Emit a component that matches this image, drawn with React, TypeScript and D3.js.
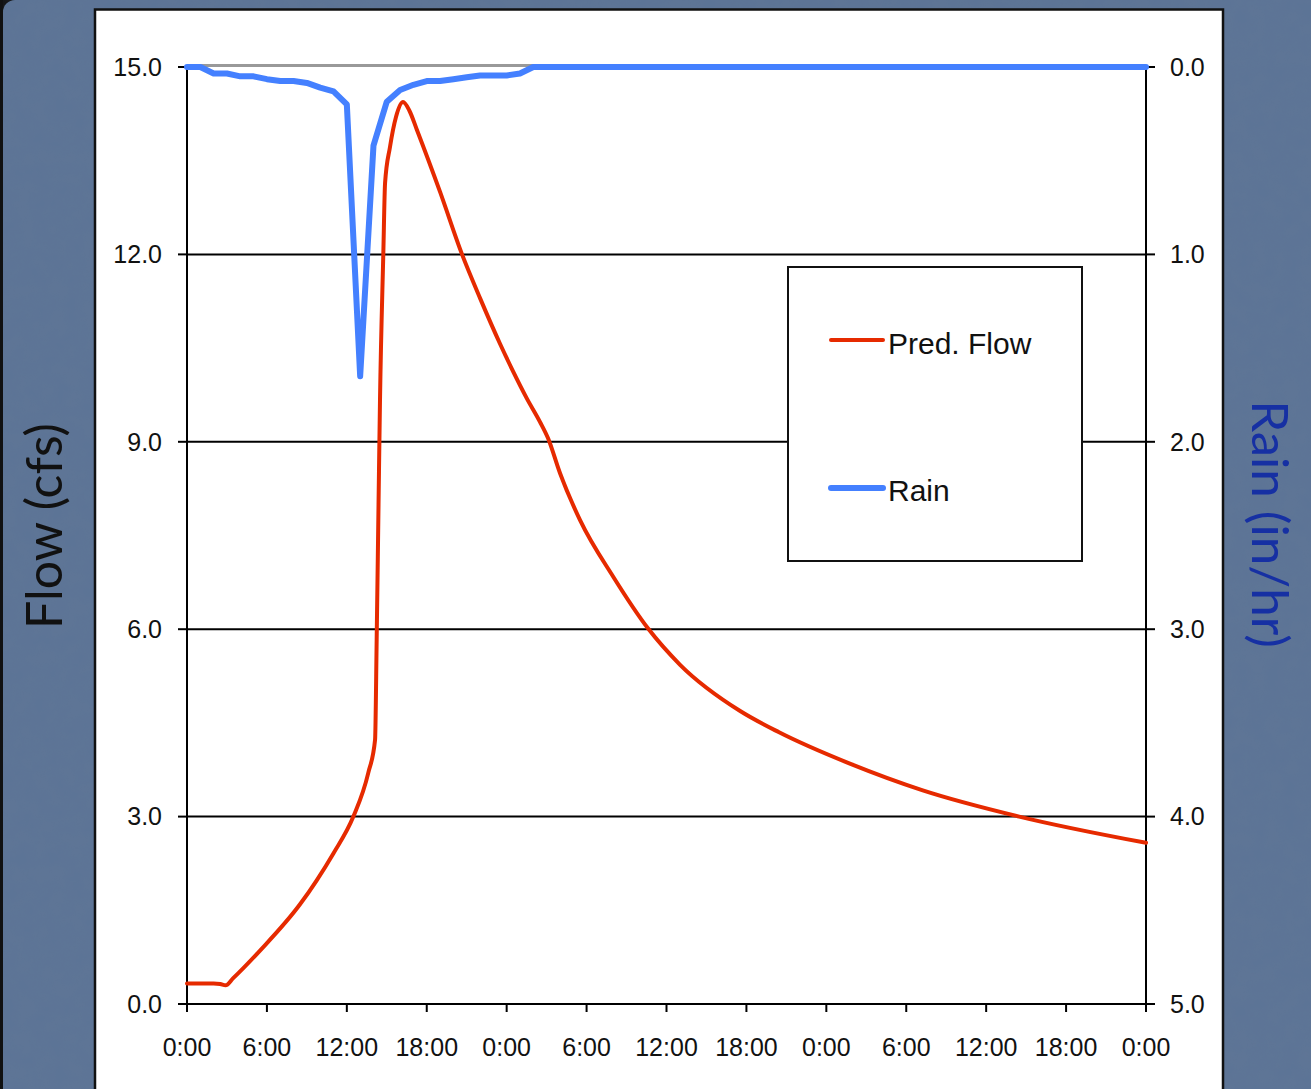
import React from "react";
import * as d3 from "d3";

// ---- data ----
const xTickHours = [0, 6, 12, 18, 24, 30, 36, 42, 48, 54, 60, 66, 72];
const xTickLabels = ["0:00", "6:00", "12:00", "18:00", "0:00", "6:00", "12:00", "18:00", "0:00", "6:00", "12:00", "18:00", "0:00"];
const flowTicks = [0, 3, 6, 9, 12, 15];
const rainTicks = [0, 1, 2, 3, 4, 5];

// Rain (in/hr), hourly from hour 0
const rainHours = d3.range(0, 73);
const rainValues = [
  0, 0, 0.035, 0.035, 0.05, 0.05, 0.065, 0.075, 0.075, 0.085,
  0.11, 0.13, 0.2, 1.65, 0.42, 0.185, 0.123, 0.095, 0.075, 0.075,
  0.065, 0.055, 0.045, 0.045, 0.045, 0.035, 0, 0, 0, 0,
  0, 0, 0, 0, 0, 0, 0, 0, 0, 0,
  0, 0, 0, 0, 0, 0, 0, 0, 0, 0,
  0, 0, 0, 0, 0, 0, 0, 0, 0, 0,
  0, 0, 0, 0, 0, 0, 0, 0, 0, 0,
  0, 0, 0,
];

// Predicted flow (cfs), read at these hours
const flowHours = [
  0, 2.0, 2.5, 2.9, 3.45, 5.5, 8.5, 9.74, 10.99, 12.49,
  13.61, 14.12, 14.24, 14.38, 14.49, 14.74, 14.87, 15.24, 15.69, 16.22,
  16.7, 17.25, 19.0, 20.65, 22.0, 23.5, 24.5, 25.5, 26.5, 27.1,
  28.0, 29.5, 32.0, 34.62, 37.02, 41.53, 44.45, 49.86, 55.24, 62.48, 72.0,
];
const flowValues = [
  0.33, 0.33, 0.32, 0.3, 0.41, 0.86, 1.6, 1.98, 2.41, 3.0,
  3.7, 4.23, 5.83, 8.0, 9.67, 12.02, 13.14, 13.72, 14.2, 14.44,
  14.3, 14.0, 13.0, 12.0, 11.3, 10.57, 10.12, 9.7, 9.32, 9.06,
  8.5, 7.75, 6.84, 6.01, 5.43, 4.69, 4.35, 3.84, 3.42, 3.0, 2.58,
];

const seriesNames = ["Pred. Flow", "Rain"];

export default function App() {
  const W = 1311;
  const H = 1089;
  const x = d3.scaleLinear().domain([0, 72]).range([187, 1146]);
  const yFlow = d3.scaleLinear().domain([0, 15]).range([1004, 67]);
  const yRain = d3.scaleLinear().domain([0, 5]).range([67, 1004]);

  const flowPts = flowHours.map((h, i) => [h, flowValues[i]] as [number, number]);
  const rainPts = rainHours.map((h, i) => [h, rainValues[i]] as [number, number]);

  const flowLine = d3
    .line<[number, number]>()
    .x((d) => x(d[0]))
    .y((d) => yFlow(d[1]))
    .curve(d3.curveMonotoneX);
  const rainLine = d3
    .line<[number, number]>()
    .x((d) => x(d[0]))
    .y((d) => yRain(d[1]));

  const tickFont = "'Liberation Sans', Arial, Helvetica, sans-serif";
  const red = "#e62a00";
  const blue = "#4480ff";

  return (
    <svg
      width={W}
      height={H}
      style={{ position: "absolute", left: 0, top: 0 }}
      xmlns="http://www.w3.org/2000/svg"
    >
      <defs>
        <filter id="noise" x="0" y="0" width="100%" height="100%">
          <feTurbulence type="fractalNoise" baseFrequency="0.06" numOctaves="3" seed="4" />
          <feColorMatrix type="matrix" values="0 0 0 0 0.15  0 0 0 0 0.2  0 0 0 0 0.3  0 0 0 0.55 0" />
        </filter>
      </defs>
      {/* background */}
      <rect x={0} y={0} width={W} height={H} fill="#111" />
      <rect x={3} y={0} width={W + 20} height={H + 20} rx={12} fill="#5c7496" />
      <rect x={3} y={0} width={W} height={H} fill="#5c7496" filter="url(#noise)" opacity={0.35} />

      {/* white panel */}
      <rect x={95} y={9.5} width={1128} height={H + 20} fill="#fff" stroke="#111" strokeWidth={2.5} />

      {/* gridlines */}
      {flowTicks
        .filter((t) => t > 0 && t < 15)
        .map((t) => (
          <line key={"g" + t} x1={x(0)} x2={x(72)} y1={yFlow(t)} y2={yFlow(t)} stroke="#000" strokeWidth={2} />
        ))}
      <line x1={x(0)} x2={x(72)} y1={yFlow(15) - 1.5} y2={yFlow(15) - 1.5} stroke="#999" strokeWidth={3} />

      {/* axes */}
      <line x1={x(0)} x2={x(0)} y1={yFlow(15)} y2={yFlow(0)} stroke="#000" strokeWidth={2} />
      <line x1={x(72)} x2={x(72)} y1={yFlow(15)} y2={yFlow(0)} stroke="#000" strokeWidth={2} />
      <line x1={x(0)} x2={x(72)} y1={yFlow(0)} y2={yFlow(0)} stroke="#000" strokeWidth={2} />

      {/* left ticks + labels */}
      {flowTicks.map((t) => (
        <g key={"lt" + t}>
          <line x1={x(0) - 9} x2={x(0)} y1={yFlow(t)} y2={yFlow(t)} stroke="#000" strokeWidth={2} />
          <text
            x={162}
            y={yFlow(t)}
            dy="0.35em"
            textAnchor="end"
            fontFamily={tickFont}
            fontSize={25}
            fill="#111"
          >
            {t.toFixed(1)}
          </text>
        </g>
      ))}
      {/* right ticks + labels */}
      {rainTicks.map((t) => (
        <g key={"rt" + t}>
          <line x1={x(72)} x2={x(72) + 9} y1={yRain(t)} y2={yRain(t)} stroke="#000" strokeWidth={2} />
          <text
            x={1170}
            y={yRain(t)}
            dy="0.35em"
            textAnchor="start"
            fontFamily={tickFont}
            fontSize={25}
            fill="#111"
          >
            {t.toFixed(1)}
          </text>
        </g>
      ))}
      {/* bottom ticks + labels */}
      {xTickHours.map((h, i) => (
        <g key={"bt" + i}>
          <line x1={x(h)} x2={x(h)} y1={yFlow(0)} y2={yFlow(0) + 8} stroke="#000" strokeWidth={2} />
          <text
            x={x(h)}
            y={1047}
            dy="0.35em"
            textAnchor="middle"
            fontFamily={tickFont}
            fontSize={25}
            fill="#111"
          >
            {xTickLabels[i]}
          </text>
        </g>
      ))}

      {/* series */}
      <path d={flowLine(flowPts) || ""} fill="none" stroke={red} strokeWidth={4} strokeLinejoin="round" strokeLinecap="round" />
      <path d={rainLine(rainPts) || ""} fill="none" stroke={blue} strokeWidth={6} strokeLinejoin="round" strokeLinecap="round" />

      {/* legend */}
      <rect x={788} y={267} width={294} height={294} fill="#fff" stroke="#111" strokeWidth={2} />
      <line x1={831} x2={883} y1={340} y2={340} stroke={red} strokeWidth={4} strokeLinecap="round" />
      <text x={888} y={354} fontFamily={tickFont} fontSize={30} fill="#111">
        {seriesNames[0]}
      </text>
      <line x1={831} x2={883} y1={488} y2={488} stroke={blue} strokeWidth={6} strokeLinecap="round" />
      <text x={888} y={501} fontFamily={tickFont} fontSize={30} fill="#111">
        {seriesNames[1]}
      </text>

      {/* axis titles */}
      <text
        transform="translate(62,526) rotate(-90)"
        textAnchor="middle"
        fontFamily="Lato, 'Open Sans', sans-serif"
        fontSize={50}
        fill="#111"
      >
        Flow (cfs)
      </text>
      <text
        transform="translate(1252,524) rotate(90)"
        textAnchor="middle"
        fontFamily="Lato, 'Open Sans', sans-serif"
        fontSize={51}
        fill="#1630a3"
      >
        Rain (in/hr)
      </text>
    </svg>
  );
}
